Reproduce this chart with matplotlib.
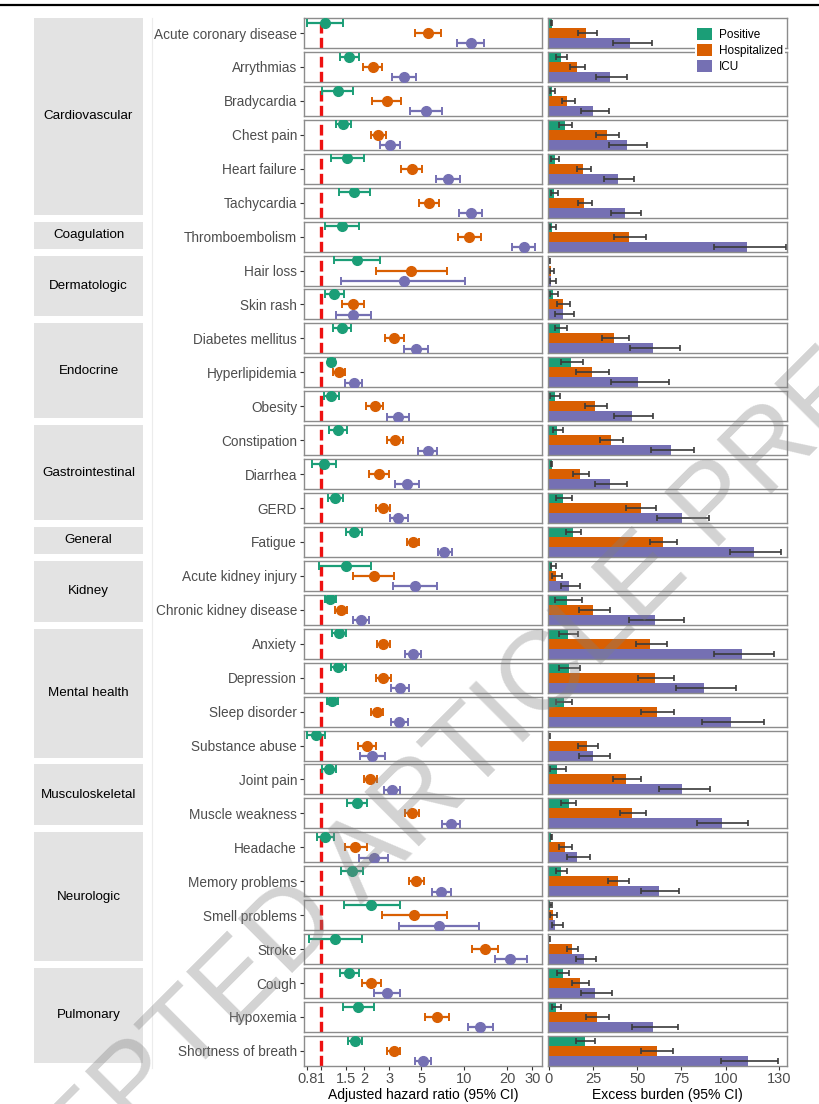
import numpy as np
import matplotlib
matplotlib.use("Agg")
from matplotlib import pyplot as plt
from matplotlib.patches import Patch
from matplotlib.lines import Line2D

plt.rcParams["font.family"] = ["Liberation Sans", "DejaVu Sans"]

# MARK: data
OUTCOMES = [
    "Acute coronary disease", "Arrythmias", "Bradycardia", "Chest pain", "Heart failure", "Tachycardia",
    "Thromboembolism",
    "Hair loss", "Skin rash",
    "Diabetes mellitus", "Hyperlipidemia", "Obesity",
    "Constipation", "Diarrhea", "GERD",
    "Fatigue",
    "Acute kidney injury", "Chronic kidney disease",
    "Anxiety", "Depression", "Sleep disorder", "Substance abuse",
    "Joint pain", "Muscle weakness",
    "Headache", "Memory problems", "Smell problems", "Stroke",
    "Cough", "Hypoxemia", "Shortness of breath",
]

# group name -> number of outcomes in it (in order)
GROUPS = ["Cardiovascular", "Coagulation", "Dermatologic", "Endocrine", "Gastrointestinal",
          "General", "Kidney", "Mental health", "Musculoskeletal", "Neurologic", "Pulmonary"]
GROUP_SIZES = [6, 1, 2, 3, 3, 1, 2, 4, 2, 4, 3]

SERIES = ["Positive", "Hospitalized", "ICU"]
COLORS = ["#1b9e77", "#d95f02", "#7570b3"]

# adjusted hazard ratios
HR_POS = [1.07, 1.57, 1.32, 1.43, 1.53, 1.70, 1.40, 1.79, 1.24, 1.40, 1.18, 1.18, 1.31, 1.05, 1.26, 1.71,
          1.49, 1.16, 1.33, 1.32, 1.20, 0.92, 1.14, 1.77, 1.06, 1.65, 2.25, 1.26, 1.57, 1.81, 1.72]
HR_POS_LO = [0.80, 1.35, 1.02, 1.27, 1.17, 1.33, 1.07, 1.24, 1.07, 1.21, 1.11, 1.05, 1.13, 0.87, 1.12, 1.50,
             0.97, 1.07, 1.19, 1.17, 1.10, 0.80, 1.02, 1.52, 0.93, 1.38, 1.44, 0.83, 1.35, 1.42, 1.55]
HR_POS_HI = [1.42, 1.85, 1.68, 1.61, 1.99, 2.19, 1.85, 2.60, 1.45, 1.63, 1.26, 1.34, 1.52, 1.27, 1.42, 1.94,
             2.25, 1.27, 1.49, 1.50, 1.31, 1.07, 1.27, 2.08, 1.23, 1.96, 3.55, 1.94, 1.84, 2.34, 1.93]

HR_HOSP = [5.59, 2.29, 2.87, 2.51, 4.30, 5.68, 10.85, 4.28, 1.67, 3.26, 1.33, 2.37, 3.27, 2.54, 2.69, 4.42,
           2.33, 1.37, 2.73, 2.73, 2.45, 2.10, 2.20, 4.32, 1.74, 4.64, 4.44, 14.0, 2.25, 6.45, 3.21]
HR_HOSP_LO = [4.57, 1.96, 2.28, 2.23, 3.64, 4.81, 8.99, 2.41, 1.41, 2.80, 1.21, 2.05, 2.87, 2.16, 2.44, 4.01,
              1.67, 1.25, 2.47, 2.44, 2.23, 1.82, 1.99, 3.83, 1.48, 4.15, 2.65, 11.4, 1.94, 5.35, 2.87]
HR_HOSP_HI = [6.93, 2.67, 3.60, 2.83, 5.08, 6.71, 13.1, 7.62, 2.00, 3.78, 1.46, 2.72, 3.74, 2.97, 3.02, 4.86,
              3.24, 1.51, 3.04, 3.07, 2.72, 2.43, 2.47, 4.86, 2.09, 5.21, 7.55, 17.3, 2.63, 7.82, 3.55]

HR_ICU = [11.1, 3.80, 5.39, 3.04, 7.70, 11.1, 26.2, 3.77, 1.68, 4.61, 1.69, 3.45, 5.56, 3.99, 3.47, 7.27,
          4.51, 1.89, 4.37, 3.55, 3.51, 2.28, 3.12, 8.08, 2.33, 6.93, 6.67, 20.9, 2.89, 13.0, 5.16]
HR_ICU_LO = [8.85, 3.14, 4.21, 2.57, 6.36, 9.2, 21.6, 1.38, 1.27, 3.80, 1.48, 2.89, 4.76, 3.31, 3.01, 6.52,
             3.16, 1.67, 3.86, 3.07, 3.07, 1.86, 2.76, 7.03, 1.84, 5.95, 3.51, 16.3, 2.34, 10.7, 4.54]
HR_ICU_HI = [13.8, 4.64, 7.00, 3.59, 9.28, 13.4, 31.5, 10.2, 2.22, 5.59, 1.94, 4.10, 6.45, 4.83, 4.03, 8.17,
             6.42, 2.16, 4.97, 4.12, 4.03, 2.80, 3.59, 9.28, 2.94, 8.03, 12.6, 27.3, 3.59, 16.0, 5.90]

# excess burden
EB_POS = [1.7, 7.0, 1.6, 9.3, 3.3, 3.1, 1.6, 0.4, 2.7, 6.5, 12.5, 3.5, 4.6, 1.6, 8.0, 13.6,
          1.6, 10.6, 10.8, 11.4, 8.6, 0.4, 4.6, 11.2, 1.4, 6.9, 1.0, 0.4, 8.0, 4.1, 20.6]
EB_POS_LO = [1.5, 4.4, 0.7, 5.9, 1.2, 1.2, 0.5, 0.2, 0.8, 3.5, 6.9, 0.8, 2.4, 1.4, 3.9, 9.7,
             1.3, 3.7, 5.9, 5.9, 4.2, 0.2, 0.8, 7.2, 1.2, 3.9, 0.5, 0.2, 4.8, 2.0, 15.5]
EB_POS_HI = [1.9, 10.4, 3.7, 13.3, 5.9, 5.0, 3.9, 0.7, 5.2, 10.3, 19.3, 6.5, 7.8, 1.9, 13.1, 18.2,
             4.0, 18.7, 16.3, 17.4, 12.9, 0.8, 9.5, 15.3, 2.0, 10.3, 2.1, 0.8, 11.7, 6.9, 26.2]

EB_HOSP = [21.2, 16.1, 10.6, 32.8, 19.5, 20.0, 45.1, 1.4, 8.0, 37.0, 24.2, 26.2, 35.1, 17.8, 52.0, 64.6,
           4.2, 25.1, 57.3, 60.1, 61.1, 21.9, 43.6, 47.1, 9.3, 39.0, 2.4, 13.1, 17.6, 27.4, 61.1]
EB_HOSP_LO = [16.3, 12.0, 7.4, 26.8, 15.7, 16.5, 37.0, 0.7, 4.6, 30.0, 15.5, 20.4, 29.2, 13.6, 43.7, 57.3,
              2.0, 17.0, 49.2, 50.5, 52.0, 16.5, 36.2, 40.3, 5.9, 33.4, 0.8, 10.3, 12.9, 21.3, 52.4]
EB_HOSP_HI = [27.4, 20.6, 14.8, 39.6, 23.8, 24.5, 54.8, 2.9, 12.0, 45.1, 33.8, 32.8, 41.7, 22.9, 60.8, 72.5,
              7.6, 34.5, 67.0, 70.8, 70.8, 27.9, 52.0, 54.8, 13.1, 45.1, 4.6, 16.8, 23.0, 34.1, 70.1]

EB_ICU = [46.0, 34.7, 25.1, 44.1, 39.0, 43.2, 111.8, 1.2, 8.0, 58.8, 50.7, 46.9, 69.1, 34.5, 75.2, 116.0,
          11.6, 60.3, 109.4, 87.9, 103.2, 25.1, 75.5, 97.7, 15.9, 62.2, 3.8, 20.2, 26.2, 58.8, 112.6]
EB_ICU_LO = [36.2, 26.6, 18.3, 34.3, 31.5, 35.1, 93.2, 0.8, 3.3, 46.0, 35.3, 36.8, 57.5, 26.4, 61.4, 102.2,
             7.1, 45.6, 93.4, 72.0, 86.5, 17.2, 62.2, 84.0, 10.3, 52.2, 1.8, 15.3, 18.5, 47.3, 97.3]
EB_ICU_HI = [58.2, 44.3, 34.0, 55.4, 48.3, 52.4, 134.0, 4.0, 14.4, 74.0, 67.8, 58.8, 82.3, 44.1, 90.6, 131.4,
             17.9, 76.5, 127.3, 105.8, 121.8, 34.9, 91.0, 112.8, 23.4, 73.8, 8.0, 26.6, 36.0, 73.1, 129.7]

HR_TICKS = [0.8, 1, 1.5, 2, 3, 5, 10, 20, 30]
HR_TICK_LABELS = ["0.8", "1", "1.5", "2", "3", "5", "10", "20", "30"]
EB_TICKS = [0, 25, 50, 75, 100, 130]

# MARK: layout in pixels
W, H = 820, 1104
TOP = 18
ROW_H = 30
PITCH = 33.93
FOREST_X = (304, 542)
BAR_X = (548, 787)
STRIP_X = (34, 143)
TEXT_GREY = "#4d4d4d"
SPINE_GREY = "#8c8c8c"


def rect(x0, x1, y_top, y_bot):
    return [x0 / W, 1 - y_bot / H, (x1 - x0) / W, (y_bot - y_top) / H]


def style_panel(ax):
    for s in ax.spines.values():
        s.set_color(SPINE_GREY)
        s.set_linewidth(1.0)


hr = [(HR_POS, HR_POS_LO, HR_POS_HI), (HR_HOSP, HR_HOSP_LO, HR_HOSP_HI), (HR_ICU, HR_ICU_LO, HR_ICU_HI)]
eb = [(EB_POS, EB_POS_LO, EB_POS_HI), (EB_HOSP, EB_HOSP_LO, EB_HOSP_HI), (EB_ICU, EB_ICU_LO, EB_ICU_HI)]

fig = plt.figure(figsize=(W / 100, H / 100), dpi=100)

n_rows = len(OUTCOMES)
last = n_rows - 1
for i, outcome in enumerate(OUTCOMES):
    y_top = TOP + i * PITCH
    y_bot = y_top + ROW_H

    # forest panel
    ax = fig.add_axes(rect(*FOREST_X, y_top, y_bot))
    ax.set_xscale("log")
    ax.axvline(1, color="#ee1111", linestyle=(0, (3.2, 1.3)), linewidth=2.4, zorder=1)
    for k, (est, lo, hi) in enumerate(hr):
        ax.errorbar(
            [est[i]], [k], xerr=[[est[i] - lo[i]], [hi[i] - est[i]]],
            fmt="o", color=COLORS[k], markersize=7, elinewidth=1.6, capsize=3, capthick=1.4, zorder=3,
        )
    ax.set_xlim(0.76, 35)
    ax.set_ylim(2.45, -0.45)
    ax.set_yticks([1])
    ax.set_yticklabels([outcome])
    ax.tick_params(axis="y", length=3, width=0.8, color="#333333", pad=2, labelsize=9.8, labelcolor=TEXT_GREY)
    ax.minorticks_off()
    style_panel(ax)
    if i == last:
        ax.set_xticks(HR_TICKS)
        ax.set_xticklabels(HR_TICK_LABELS)
        ax.tick_params(axis="x", length=3, width=0.8, color="#333333", pad=1.5, labelsize=10.5, labelcolor=TEXT_GREY)
        ax.set_xlabel("Adjusted hazard ratio (95% CI)", fontsize=10, labelpad=1)
    else:
        ax.set_xticks([])

    # excess burden panel
    bx = fig.add_axes(rect(*BAR_X, y_top, y_bot))
    for k, (est, lo, hi) in enumerate(eb):
        bx.barh(
            [k], [est[i]], height=1.0, color=COLORS[k],
            xerr=[[est[i] - lo[i]], [hi[i] - est[i]]],
            error_kw=dict(ecolor="#3a3a3a", elinewidth=1.2, capsize=2, capthick=1.2),
        )
    bx.set_xlim(-0.4, 134.6)
    bx.set_ylim(2.5, -0.5)
    bx.set_yticks([])
    style_panel(bx)
    if i == last:
        bx.set_xticks(EB_TICKS)
        bx.tick_params(axis="x", length=3, width=0.8, color="#333333", pad=1.5, labelsize=10.5, labelcolor=TEXT_GREY)
        bx.set_xlabel("Excess burden (95% CI)", fontsize=10, labelpad=1)
    else:
        bx.set_xticks([])

# group strips
start = 0
for name, size in zip(GROUPS, GROUP_SIZES):
    y_top = TOP + start * PITCH
    y_bot = TOP + (start + size - 1) * PITCH + ROW_H - 3
    sx = fig.add_axes(rect(*STRIP_X, y_top, y_bot))
    sx.set_facecolor("#e3e3e3")
    for s in sx.spines.values():
        s.set_visible(False)
    sx.set_xticks([])
    sx.set_yticks([])
    sx.text(0.5, 0.5, name, ha="center", va="center", fontsize=9.6, transform=sx.transAxes)
    start += size

# separators
fig.add_artist(Line2D([0, 1], [1 - 5 / H, 1 - 5 / H], color="black", linewidth=1.6))
fig.add_artist(Line2D([152 / W, 152 / W], [1 - 1068 / H, 1 - 18 / H], color="#ececec", linewidth=0.8))

# legend
handles = [Patch(facecolor=c, edgecolor="none", label=s) for c, s in zip(COLORS, SERIES)]
fig.legend(
    handles=handles, loc="upper left", bbox_to_anchor=(695 / W, 1 - 26 / H),
    frameon=True, facecolor="white", edgecolor="none", framealpha=1, fancybox=False,
    fontsize=8.5, handlelength=1.2, handleheight=1.2, labelspacing=0.25, borderpad=0.2,
    handletextpad=0.6, borderaxespad=0,
)

# watermark
fig.text(475 / W, 1 - 750 / H, "ACCEPTED ARTICLE PREVIEW", rotation=45, fontsize=80,
         color="#808080", alpha=0.35, ha="center", va="center", rotation_mode="anchor", zorder=10)

fig.savefig("out.png", dpi=100)
